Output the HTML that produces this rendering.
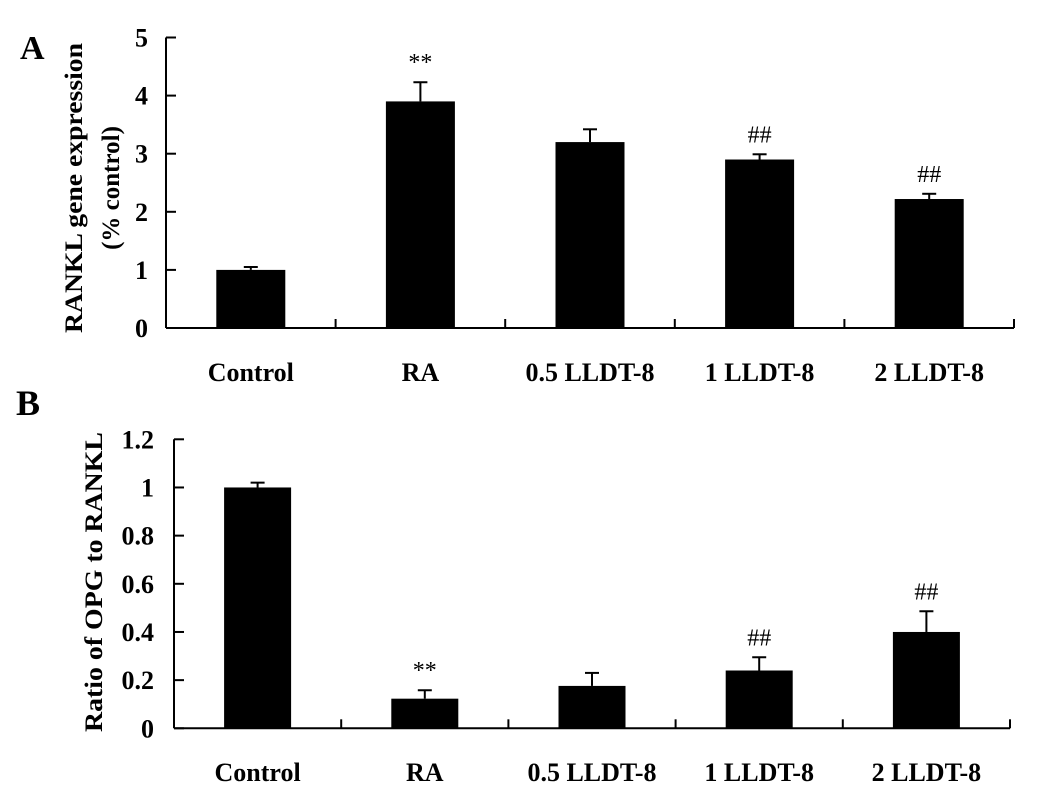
<!DOCTYPE html>
<html><head><meta charset="utf-8"><style>
html,body{margin:0;padding:0;background:#fff;}
svg{display:block;font-family:"Liberation Serif",serif;font-weight:bold;}
</style></head><body>
<svg id="fig" width="1058" height="807" viewBox="0 0 1058 807" xmlns="http://www.w3.org/2000/svg">
<text x="20" y="59" font-size="34">A</text>
<text x="16" y="415" font-size="36">B</text>
<g id="panelA"></g>
<g id="panelB"></g>
<text transform="translate(82,188) rotate(-90)" text-anchor="middle" font-size="25" textLength="290" lengthAdjust="spacingAndGlyphs">RANKL gene expression</text>
<text transform="translate(119,188) rotate(-90)" text-anchor="middle" font-size="25">(% control)</text>
<text transform="translate(102,582) rotate(-90)" text-anchor="middle" font-size="25" textLength="300" lengthAdjust="spacingAndGlyphs">Ratio of OPG to RANKL</text>
</svg>
<script>
const categories = ["Control", "RA", "0.5 LLDT-8", "1 LLDT-8", "2 LLDT-8"];
const rankValues = [1.0, 3.9, 3.2, 2.9, 2.22];
const rankErrors = [0.05, 0.33, 0.22, 0.09, 0.09];
const rankMarks = ["", "**", "", "##", "##"];
const rankTicks = [0, 1, 2, 3, 4, 5];
const ratioValues = [1.0, 0.123, 0.176, 0.24, 0.40];
const ratioErrors = [0.02, 0.035, 0.054, 0.055, 0.086];
const ratioMarks = ["", "**", "", "##", "##"];
const ratioTicks = [0, 0.2, 0.4, 0.6, 0.8, 1, 1.2];
const ratioTickLabels = ["0", "0.2", "0.4", "0.6", "0.8", "1", "1.2"];

const NS = "http://www.w3.org/2000/svg";
function mk(parent, tag, attrs) {
  const e = document.createElementNS(NS, tag);
  for (const k in attrs) e.setAttribute(k, attrs[k]);
  parent.appendChild(e);
  return e;
}
function drawPanel(g, o, values, errors, marks, ticks, tickLabels, prefix) {
  const yMax = ticks[ticks.length - 1];
  const y = v => o.y0 - (v / yMax) * (o.y0 - o.yTop);
  const step = (o.x1 - o.x0) / categories.length;
  const xc = i => o.x0 + step * (i + 0.5);
  // axes
  const ya = mk(g, "line", {x1: o.x0, y1: o.yTop, x2: o.x0, y2: o.y0, stroke: "#000", "stroke-width": 2});
  
  
  const xa = mk(g, "line", {x1: o.x0, y1: o.y0, x2: o.x1, y2: o.y0, stroke: "#000", "stroke-width": 2});
  
  
  ticks.forEach((t, i) => {
    const ty = y(t);
    const tl = mk(g, "line", {x1: o.x0, y1: ty, x2: o.x0 + 10, y2: ty, stroke: "#000", "stroke-width": 2});
    
    
    const tx = mk(g, "text", {x: o.labelX, y: ty + 9, "text-anchor": "end", "font-size": 26});
    tx.textContent = tickLabels[i];
    
    
  });
  for (let i = 1; i <= categories.length; i++) {
    const sx = o.x0 + step * i;
    const s = mk(g, "line", {x1: sx, y1: o.y0, x2: sx, y2: o.y0 - 9, stroke: "#000", "stroke-width": 2});
    
    
  }
  categories.forEach((c, i) => {
    const cx = xc(i);
    const top = y(values[i]);
    const et = y(values[i] + errors[i]);
    const el = mk(g, "line", {x1: cx, y1: top, x2: cx, y2: et, stroke: "#000", "stroke-width": 2});
    
    
    const ec = mk(g, "line", {x1: cx - 7, y1: et, x2: cx + 7, y2: et, stroke: "#000", "stroke-width": 2});
    
    
    const b = mk(g, "rect", {x: cx - o.bw / 2, y: top, width: o.bw, height: o.y0 - top, fill: "#000"});
    
    
    if (marks[i]) {
      const m = mk(g, "text", {x: cx, y: et - 12, "text-anchor": "middle", "font-size": 24, "font-weight": "normal"});
      m.textContent = marks[i];
      
      
    }
    const lab = mk(g, "text", {x: cx, y: o.catY, "text-anchor": "middle", "font-size": 26});
    lab.textContent = c;
    
    
  });
}
drawPanel(document.getElementById("panelA"),
  {x0: 166, x1: 1014, y0: 328, yTop: 37.5, bw: 69, labelX: 148, catY: 381},
  rankValues, rankErrors, rankMarks, rankTicks, rankTicks.map(String), "panel-a");
drawPanel(document.getElementById("panelB"),
  {x0: 174, x1: 1010, y0: 728.3, yTop: 439.3, bw: 67, labelX: 154, catY: 781},
  ratioValues, ratioErrors, ratioMarks, ratioTicks, ratioTickLabels, "panel-b");
</script>
</body></html>
